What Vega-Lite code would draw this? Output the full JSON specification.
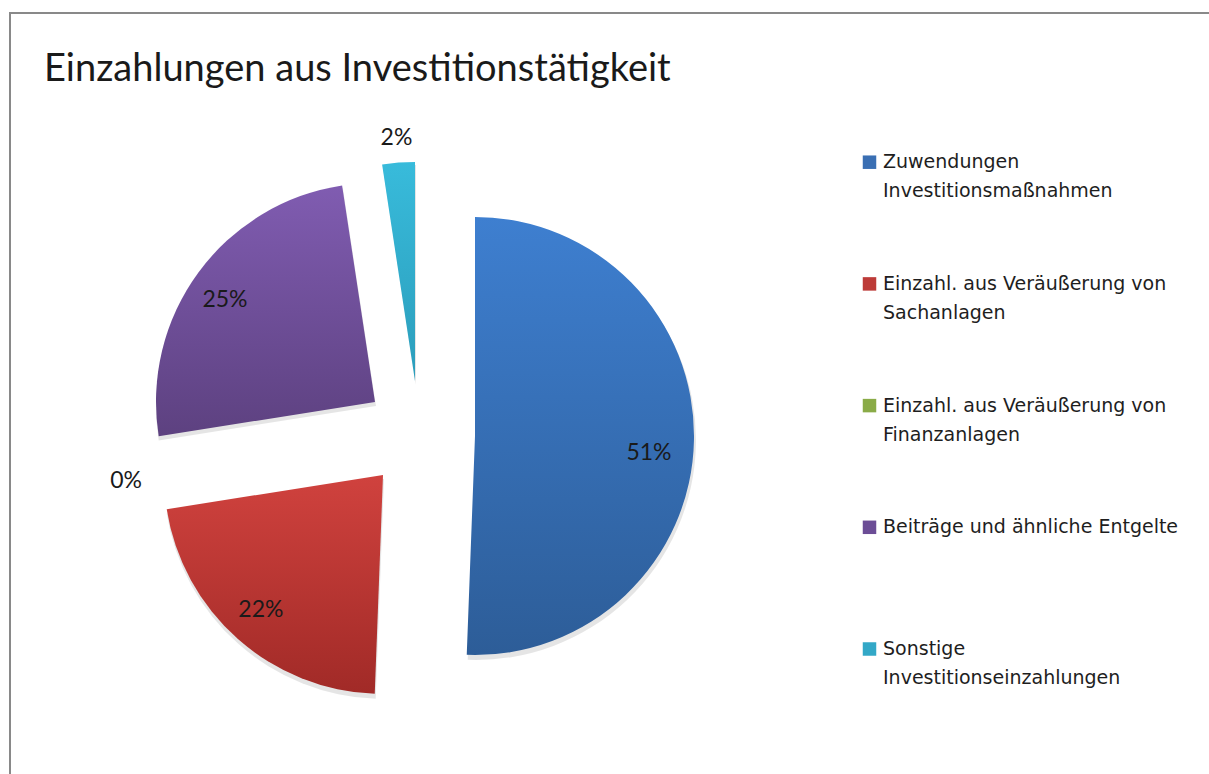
{
  "$schema": "https://vega.github.io/schema/vega-lite/v6.json",
  "width": 1199,
  "height": 761,
  "autosize": {"type": "none"},
  "padding": {"left": 10, "top": 13, "right": 0, "bottom": 0},
  "background": "white",
  "view": {"stroke": "#898989", "strokeWidth": 2, "strokeDash": [1199, 1960, 761]},
  "title": {
    "text": "Einzahlungen aus Investitionstätigkeit",
    "anchor": "start",
    "frame": "group",
    "orient": "top",
    "offset": -106,
    "baseline": "alphabetic",
    "dx": 34,
    "font": "Lato",
    "fontSize": 38,
    "fontWeight": "normal",
    "color": "#1a1a1a"
  },
  "config": {
    "style": {"guide-label": {"lineHeight": 29}}
  },
  "data": {
    "values": [
      {"category": "Zuwendungen Investitionsmaßnahmen", "value": 0.506},
      {"category": "Einzahl. aus Veräußerung von Sachanlagen", "value": 0.219},
      {"category": "Einzahl. aus Veräußerung von Finanzanlagen", "value": 0.0},
      {"category": "Beiträge und ähnliche Entgelte", "value": 0.251},
      {"category": "Sonstige Investitionseinzahlungen", "value": 0.024}
    ]
  },
  "transform": [
    {"stack": "value", "groupby": [], "as": ["v0", "v1"]},
    {"calculate": "(datum.v0 + datum.v1) / 2", "as": "mid"}
  ],
  "layer": [
    {
      "mark": {"type": "arc", "radius": 0, "x": 409, "y": 422},
      "encoding": {
        "color": {
          "field": "category",
          "type": "nominal",
          "scale": {
            "domain": [
              "Zuwendungen Investitionsmaßnahmen",
              "Einzahl. aus Veräußerung von Sachanlagen",
              "Einzahl. aus Veräußerung von Finanzanlagen",
              "Beiträge und ähnliche Entgelte",
              "Sonstige Investitionseinzahlungen"
            ],
            "range": ["#3a6fb3", "#bd3b38", "#8aab47", "#6c4d96", "#33a8c7"]
          },
          "legend": {
            "title": null,
            "orient": "none",
            "legendX": 850,
            "legendY": 139.7,
            "padding": 0,
            "symbolType": "square",
            "symbolSize": 182,
            "symbolStrokeWidth": 0,
            "labelFont": "DejaVu Sans",
            "labelFontSize": 19,
            "labelColor": "#1e1e1e",
            "labelLimit": 0,
            "labelOffset": 4,
            "rowPadding": 72.7,
            "gridAlign": "all",
            "labelExpr": "datum.value == 'Beiträge und ähnliche Entgelte' ? [datum.value] : [slice(datum.value, 0, lastindexof(datum.value, ' ')), slice(datum.value, lastindexof(datum.value, ' ') + 1)]"
          }
        }
      }
    },
    {
      "transform": [{"filter": "datum.category == 'Zuwendungen Investitionsmaßnahmen'"}],
      "layer": [
        {
          "mark": {"type": "arc", "x": 409, "y": 422, "xOffset": 57, "yOffset": 5, "radius": 220, "fill": "#000000", "opacity": 0.1},
          "encoding": {
            "theta": {"field": "v0", "type": "quantitative", "stack": null, "scale": {"domain": [0, 1]}},
            "theta2": {"field": "v1"}
          }
        },
        {
          "mark": {"type": "arc", "x": 409, "y": 422, "xOffset": 56, "yOffset": 1, "radius": 219,
            "fill": {"gradient": "linear", "x1": 0, "y1": 0, "x2": 0, "y2": 1,
              "stops": [{"offset": 0, "color": "#3e7fd0"}, {"offset": 1, "color": "#2d5d98"}]}},
          "encoding": {
            "theta": {"field": "v0", "type": "quantitative", "stack": null, "scale": {"domain": [0, 1]}},
            "theta2": {"field": "v1"}
          }
        },
        {
          "mark": {"type": "text", "x": 409, "y": 422, "xOffset": 56, "yOffset": 1, "radius": 177, "dx": -3, "dy": 14,
            "font": "Lato", "fontSize": 23, "color": "#1a1a1a", "align": "center", "baseline": "middle"},
          "encoding": {
            "theta": {"field": "mid", "type": "quantitative", "stack": null, "scale": {"domain": [0, 1]}},
            "text": {"field": "value", "type": "quantitative", "format": ".0%"}
          }
        }
      ]
    },
    {
      "transform": [{"filter": "datum.category == 'Einzahl. aus Veräußerung von Sachanlagen'"}],
      "layer": [
        {
          "mark": {"type": "arc", "x": 409, "y": 422, "xOffset": -35, "yOffset": 44, "radius": 220, "fill": "#000000", "opacity": 0.1},
          "encoding": {
            "theta": {"field": "v0", "type": "quantitative", "stack": null, "scale": {"domain": [0, 1]}},
            "theta2": {"field": "v1"}
          }
        },
        {
          "mark": {"type": "arc", "x": 409, "y": 422, "xOffset": -36, "yOffset": 40, "radius": 219,
            "fill": {"gradient": "linear", "x1": 0, "y1": 0, "x2": 0, "y2": 1,
              "stops": [{"offset": 0, "color": "#d0423e"}, {"offset": 1, "color": "#a12a27"}]}},
          "encoding": {
            "theta": {"field": "v0", "type": "quantitative", "stack": null, "scale": {"domain": [0, 1]}},
            "theta2": {"field": "v1"}
          }
        },
        {
          "mark": {"type": "text", "x": 409, "y": 422, "xOffset": -36, "yOffset": 40, "radius": 184, "dy": -3,
            "font": "Lato", "fontSize": 23, "color": "#1a1a1a", "align": "center", "baseline": "middle"},
          "encoding": {
            "theta": {"field": "mid", "type": "quantitative", "stack": null, "scale": {"domain": [0, 1]}},
            "text": {"field": "value", "type": "quantitative", "format": ".0%"}
          }
        }
      ]
    },
    {
      "transform": [{"filter": "datum.category == 'Einzahl. aus Veräußerung von Finanzanlagen'"}],
      "mark": {"type": "text", "x": 409, "y": 422, "xOffset": -52, "yOffset": 8, "radius": 245, "dx": 1,
        "font": "Lato", "fontSize": 23, "color": "#1a1a1a", "align": "center", "baseline": "middle"},
      "encoding": {
        "theta": {"field": "mid", "type": "quantitative", "stack": null, "scale": {"domain": [0, 1]}},
        "text": {"field": "value", "type": "quantitative", "format": ".0%"}
      }
    },
    {
      "transform": [{"filter": "datum.category == 'Beiträge und ähnliche Entgelte'"}],
      "layer": [
        {
          "mark": {"type": "arc", "x": 409, "y": 422, "xOffset": -43, "yOffset": -29, "radius": 220, "fill": "#000000", "opacity": 0.1},
          "encoding": {
            "theta": {"field": "v0", "type": "quantitative", "stack": null, "scale": {"domain": [0, 1]}},
            "theta2": {"field": "v1"}
          }
        },
        {
          "mark": {"type": "arc", "x": 409, "y": 422, "xOffset": -44, "yOffset": -33, "radius": 219,
            "fill": {"gradient": "linear", "x1": 0, "y1": 0, "x2": 0, "y2": 1,
              "stops": [{"offset": 0, "color": "#805cb1"}, {"offset": 1, "color": "#5d4180"}]}},
          "encoding": {
            "theta": {"field": "v0", "type": "quantitative", "stack": null, "scale": {"domain": [0, 1]}},
            "theta2": {"field": "v1"}
          }
        },
        {
          "mark": {"type": "text", "x": 409, "y": 422, "xOffset": -44, "yOffset": -33, "radius": 184, "dx": -1.5, "dy": 7,
            "font": "Lato", "fontSize": 23, "color": "#1a1a1a", "align": "center", "baseline": "middle"},
          "encoding": {
            "theta": {"field": "mid", "type": "quantitative", "stack": null, "scale": {"domain": [0, 1]}},
            "text": {"field": "value", "type": "quantitative", "format": ".0%"}
          }
        }
      ]
    },
    {
      "transform": [{"filter": "datum.category == 'Sonstige Investitionseinzahlungen'"}],
      "layer": [
        {
          "mark": {"type": "arc", "x": 409, "y": 422, "xOffset": -3, "yOffset": -50, "radius": 220, "fill": "#000000", "opacity": 0.1},
          "encoding": {
            "theta": {"field": "v0", "type": "quantitative", "stack": null, "scale": {"domain": [0, 1]}},
            "theta2": {"field": "v1"}
          }
        },
        {
          "mark": {"type": "arc", "x": 409, "y": 422, "xOffset": -4, "yOffset": -54, "radius": 219,
            "fill": {"gradient": "linear", "x1": 0, "y1": 0, "x2": 0, "y2": 1,
              "stops": [{"offset": 0, "color": "#38bbdb"}, {"offset": 1, "color": "#2b9dbb"}]}},
          "encoding": {
            "theta": {"field": "v0", "type": "quantitative", "stack": null, "scale": {"domain": [0, 1]}},
            "theta2": {"field": "v1"}
          }
        },
        {
          "mark": {"type": "text", "x": 409, "y": 422, "xOffset": -4, "yOffset": -54, "radius": 246, "dy": 2,
            "font": "Lato", "fontSize": 23, "color": "#1a1a1a", "align": "center", "baseline": "middle"},
          "encoding": {
            "theta": {"field": "mid", "type": "quantitative", "stack": null, "scale": {"domain": [0, 1]}},
            "text": {"field": "value", "type": "quantitative", "format": ".0%"}
          }
        }
      ]
    }
  ]
}
